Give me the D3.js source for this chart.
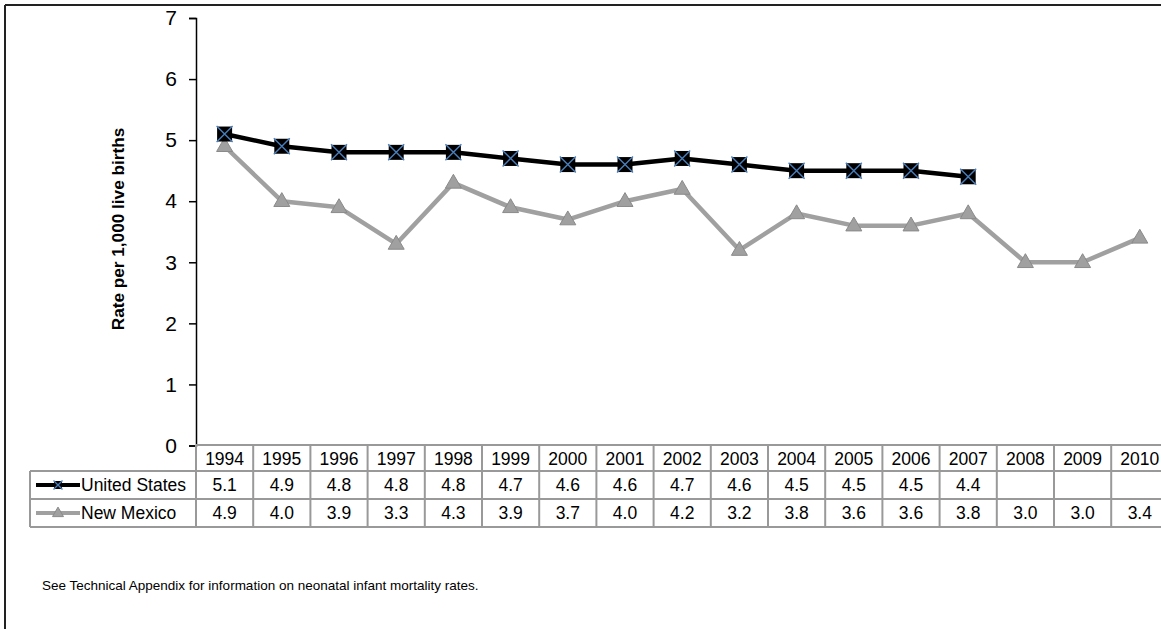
<!DOCTYPE html>
<html><head><meta charset="utf-8">
<script src="https://cdn.jsdelivr.net/npm/d3@7"></script>
<style>body{margin:0;background:#fff;} svg{display:block;font-family:Arial,"Liberation Sans",sans-serif;}</style>
</head><body><svg id="c" width="1161" height="629"></svg>
<script>
const years = ["1994","1995","1996","1997","1998","1999","2000","2001","2002","2003","2004","2005","2006","2007","2008","2009","2010"];
const usValues = [5.1,4.9,4.8,4.8,4.8,4.7,4.6,4.6,4.7,4.6,4.5,4.5,4.5,4.4,null,null,null];
const nmValues = [4.9,4.0,3.9,3.3,4.3,3.9,3.7,4.0,4.2,3.2,3.8,3.6,3.6,3.8,3.0,3.0,3.4];
const seriesNames = ["United States","New Mexico"];
const yTicks = [0,1,2,3,4,5,6,7];
const yTitle = "Rate per 1,000 live births";
const footnote = "See Technical  Appendix for information on neonatal infant mortality rates.";

const svg = d3.select("#c");
const x0 = 196, colW = 57.2;
const x = d3.scaleBand().domain(years).range([x0, x0 + colW*years.length]).padding(0);
const y = d3.scaleLinear().domain([0,7]).range([445.5,18]);

// outer frame
svg.append("line").attr("x1",5).attr("x2",1161).attr("y1",5).attr("y2",5).attr("stroke","#222").attr("stroke-width",2);
svg.append("line").attr("x1",5).attr("x2",5).attr("y1",5).attr("y2",629).attr("stroke","#222").attr("stroke-width",2);

// y axis
const ya = svg.append("g").attr("transform",`translate(${x0},0)`)
  .call(d3.axisLeft(y).tickValues(yTicks).tickSize(7).tickPadding(12).tickFormat(d3.format("d")));
ya.select(".domain").attr("stroke","#000").attr("stroke-width",1.5);
ya.selectAll(".tick line").attr("stroke","#000").attr("stroke-width",1.5);
ya.selectAll(".tick text").attr("font-size",21).attr("fill","#000").attr("font-family","Arial,'Liberation Sans',sans-serif");

svg.append("text").attr("transform","translate(124,229) rotate(-90)")
  .attr("text-anchor","middle").attr("font-size",17.2).attr("font-weight","bold").text(yTitle);

// table
const gridC = "#999";
const tableRight = x0 + colW*years.length;
const rowTop = 445, row1 = 471, row2 = 499, row3 = 527, legL = 30;
const fs = 17.5;
const tg = svg.append("g");
tg.append("line").attr("x1",x0).attr("x2",tableRight).attr("y1",rowTop).attr("y2",rowTop).attr("stroke",gridC).attr("stroke-width",2);
[row1,row2,row3].forEach(r=>tg.append("line").attr("x1",legL).attr("x2",tableRight).attr("y1",r).attr("y2",r).attr("stroke",gridC).attr("stroke-width",2));
tg.append("line").attr("x1",legL).attr("x2",legL).attr("y1",row1).attr("y2",row3).attr("stroke",gridC).attr("stroke-width",2);
tg.append("line").attr("x1",x0).attr("x2",x0).attr("y1",rowTop).attr("y2",row3).attr("stroke",gridC).attr("stroke-width",2);
years.forEach(yr=>{
  const xr = x(yr)+x.bandwidth();
  tg.append("line").attr("x1",xr).attr("x2",xr).attr("y1",rowTop).attr("y2",row3).attr("stroke",gridC).attr("stroke-width",2);
  tg.append("text").attr("x",x(yr)+x.bandwidth()/2).attr("y",rowTop+20).attr("text-anchor","middle").attr("font-size",fs).text(yr);
});
const fmt = d3.format(".1f");
[usValues,nmValues].forEach((vals,i)=>{
  const ry = [row1,row2][i];
  vals.forEach((v,j)=>{
    if(v==null) return;
    tg.append("text").attr("x",x(years[j])+x.bandwidth()/2).attr("y",ry+20).attr("text-anchor","middle").attr("font-size",fs).text(fmt(v));
  });
});

// marker drawers
function usMarker(g,cx,cy,s){
  g.append("rect").attr("x",cx-s/2).attr("y",cy-s/2).attr("width",s).attr("height",s).attr("fill","#000");
  const h=s/2+0.5;
  g.append("path").attr("d",`M${cx-h},${cy-h}L${cx+h},${cy+h}M${cx-h},${cy+h}L${cx+h},${cy-h}`).attr("stroke","#4a7ebb").attr("stroke-width",1.4);
}
function nmMarker(g,cx,cy,s){
  const h=s*0.866;
  g.append("path").attr("d",`M${cx},${cy-h*0.62}L${cx+s/2},${cy+h*0.38}L${cx-s/2},${cy+h*0.38}Z`).attr("fill","#a0a0a0").attr("stroke","#8a8a8a").attr("stroke-width",1);
}

// legend keys
const lk = svg.append("g");
lk.append("line").attr("x1",36).attr("x2",80).attr("y1",(row1+row2)/2).attr("y2",(row1+row2)/2).attr("stroke","#000").attr("stroke-width",4);
usMarker(lk,58,(row1+row2)/2,8);
lk.append("text").attr("x",81).attr("y",row1+20).attr("font-size",fs).text(seriesNames[0]);
lk.append("line").attr("x1",36).attr("x2",80).attr("y1",(row2+row3)/2).attr("y2",(row2+row3)/2).attr("stroke","#a0a0a0").attr("stroke-width",4);
nmMarker(lk,58,(row2+row3)/2,11);
lk.append("text").attr("x",81).attr("y",row2+20).attr("font-size",fs).text(seriesNames[1]);

// lines
const cx = yr => x(yr)+x.bandwidth()/2;
const line = d3.line().defined(d=>d.v!=null).x(d=>cx(d.yr)).y(d=>y(d.v));
const nmData = years.map((yr,i)=>({yr,v:nmValues[i]}));
const usData = years.map((yr,i)=>({yr,v:usValues[i]}));
svg.append("path").datum(nmData).attr("d",line).attr("fill","none").attr("stroke","#a0a0a0").attr("stroke-width",4.5).attr("stroke-linejoin","round");
const nmG = svg.append("g");
nmData.forEach(d=>{ if(d.v!=null) nmMarker(nmG,cx(d.yr),y(d.v),16); });
svg.append("path").datum(usData).attr("d",line).attr("fill","none").attr("stroke","#000").attr("stroke-width",4.5).attr("stroke-linejoin","round");
const usG = svg.append("g");
usData.forEach(d=>{ if(d.v!=null) usMarker(usG,cx(d.yr),y(d.v),15); });

svg.append("text").attr("x",42).attr("y",590).attr("font-size",13.5).text(footnote);
</script></body></html>
